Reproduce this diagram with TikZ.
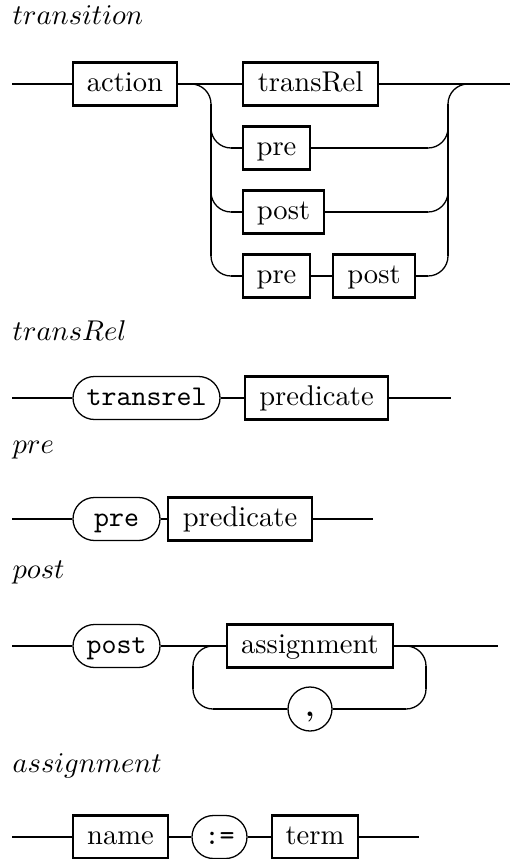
\documentclass[tikz,border=0pt]{standalone}
\tikzset{
  ntbox/.style={draw, line width=0.95pt, minimum height=15.05pt, inner sep=0pt, text height=7pt, text depth=2pt},
  tmbox/.style={draw, line width=0.45pt, rounded corners=7.5pt, minimum height=15.05pt, inner sep=0pt, text height=7pt, text depth=2pt, font=\ttfamily},
  circbox/.style={draw, line width=0.45pt, circle, minimum size=15.4pt, inner sep=0pt, text height=7pt, text depth=2pt, font=\bfseries},
  railline/.style={line width=0.7pt},
  railcurve/.style={line width=0.45pt, rounded corners=7pt},
  titlelabel/.style={anchor=base west, inner sep=0pt},
}
\begin{document}
\begin{tikzpicture}[x=0.35pt, y=-0.35pt]
\useasboundingbox (0,0) rectangle (511,859);

% ---------- transition ----------
\node[titlelabel] (t1) at (12,25) {$transition$};
\node[ntbox, minimum width=36.4pt] (action) at (125,84) {action};
\node[ntbox, minimum width=47.25pt] (transRel) at (310.5,84) {transRel};
\node[ntbox, minimum width=23.45pt] (preA) at (276.5,148) {pre};
\node[ntbox, minimum width=28.35pt] (postA) at (283.5,212) {post};
\node[ntbox, minimum width=23.45pt] (preB) at (276.5,276) {pre};
\node[ntbox, minimum width=28.7pt] (postB) at (374,276) {post};
\coordinate (s1) at (12,84);
\coordinate (e1) at (510,84);
\coordinate (la) at (181,84);
\coordinate (lt) at (211,84);
\coordinate (lb) at (211,276);
\coordinate (l2) at (211,110);
\coordinate (l2c) at (211,148);
\coordinate (l3) at (211,180);
\coordinate (l3c) at (211,212);
\coordinate (ra) at (480,84);
\coordinate (rt) at (448,84);
\coordinate (rb) at (448,276);
\coordinate (r2) at (448,120);
\coordinate (r2c) at (448,148);
\coordinate (r3) at (448,180);
\coordinate (r3c) at (448,212);
% thin rounded curves
\draw[railcurve] (la) -- (lt) -- (lb) -- (preB.west);
\draw[railcurve] (l2) -- (l2c) -- (preA.west);
\draw[railcurve] (l3) -- (l3c) -- (postA.west);
\draw[railcurve] (postB.east) -- (rb) -- (rt) -- (ra);
\draw[railcurve] (preA.east) -- (r2c) -- (r2);
\draw[railcurve] (postA.east) -- (r3c) -- (r3);
% thick straight parts
\coordinate (lv1) at (211,104);
\coordinate (lv2) at (211,256);
\coordinate (rv1) at (448,104);
\coordinate (rv2) at (448,256);
\coordinate (p2l) at (231,148);
\coordinate (p3l) at (231,212);
\coordinate (p4l) at (231,276);
\coordinate (p2r) at (428,148);
\coordinate (p3r) at (428,212);
\coordinate (p4r) at (428,276);
\draw[railline] (s1) -- (action.west);
\draw[railline] (action.east) -- (transRel.west);
\draw[railline] (transRel.east) -- (e1);
\draw[railline] (lv1) -- (lv2);
\draw[railline] (rv1) -- (rv2);
\draw[railline] (p2l) -- (preA.west);
\draw[railline] (p3l) -- (postA.west);
\draw[railline] (p4l) -- (preB.west);
\draw[railline] (preA.east) -- (p2r);
\draw[railline] (postA.east) -- (p3r);
\draw[railline] (preB.east) -- (postB.west);
\draw[railline] (postB.east) -- (p4r);

% ---------- transRel ----------
\node[titlelabel] (t2) at (12,340) {$transRel$};
\node[tmbox, minimum width=51.45pt] (trk) at (146.5,398) {transrel};
\node[ntbox, minimum width=50.05pt] (pred1) at (316.5,398) {predicate};
\coordinate (s2) at (12,398);
\coordinate (e2) at (451,398);
\draw[railline] (s2) -- (trk.west);
\draw[railline] (trk.east) -- (pred1.west);
\draw[railline] (pred1.east) -- (e2);

% ---------- pre ----------
\node[titlelabel] (t3) at (12,453) {$pre$};
\node[tmbox, minimum width=30.45pt] (prk) at (116.5,519) {pre};
\node[ntbox, minimum width=50.4pt] (pred2) at (240,519) {predicate};
\coordinate (s3) at (12,519);
\coordinate (e3) at (373,519);
\draw[railline] (s3) -- (prk.west);
\draw[railline] (prk.east) -- (pred2.west);
\draw[railline] (pred2.east) -- (e3);

% ---------- post ----------
\node[titlelabel] (t4) at (12,578) {$post$};
\node[tmbox, minimum width=30.45pt] (pok) at (116.5,646) {post};
\node[ntbox, minimum width=58.1pt] (asg) at (310,646) {assignment};
\node[circbox] (comma) at (310,709) {,};
\coordinate (s4) at (12,646);
\coordinate (e4) at (498,646);
\coordinate (q1) at (223,646);
\coordinate (q2) at (193,646);
\coordinate (q3) at (193,709);
\coordinate (q4) at (426,709);
\coordinate (q5) at (426,646);
\coordinate (q6) at (396,646);
\draw[railcurve] (q1) -- (q2) -- (q3) -- (comma.west);
\draw[railcurve] (comma.east) -- (q4) -- (q5) -- (q6);
\coordinate (qv1) at (193,666);
\coordinate (qv2) at (193,689);
\coordinate (qv3) at (426,666);
\coordinate (qv4) at (426,689);
\coordinate (qb1) at (213,709);
\coordinate (qb2) at (406,709);
\draw[railline] (s4) -- (pok.west);
\draw[railline] (pok.east) -- (asg.west);
\draw[railline] (asg.east) -- (e4);
\draw[railline] (qv1) -- (qv2);
\draw[railline] (qv3) -- (qv4);
\draw[railline] (qb1) -- (comma.west);
\draw[railline] (comma.east) -- (qb2);

% ---------- assignment ----------
\node[titlelabel] (t5) at (12,772) {$assignment$};
\node[ntbox, minimum width=33.25pt] (name) at (120.5,837) {name};
\node[tmbox, minimum width=19.25pt] (assk) at (219.5,837) {:=};
\node[ntbox, minimum width=30.1pt] (term) at (315,837) {term};
\coordinate (s5) at (12,837);
\coordinate (e5) at (419,837);
\draw[railline] (s5) -- (name.west);
\draw[railline] (name.east) -- (assk.west);
\draw[railline] (assk.east) -- (term.west);
\draw[railline] (term.east) -- (e5);
\end{tikzpicture}
\end{document}
